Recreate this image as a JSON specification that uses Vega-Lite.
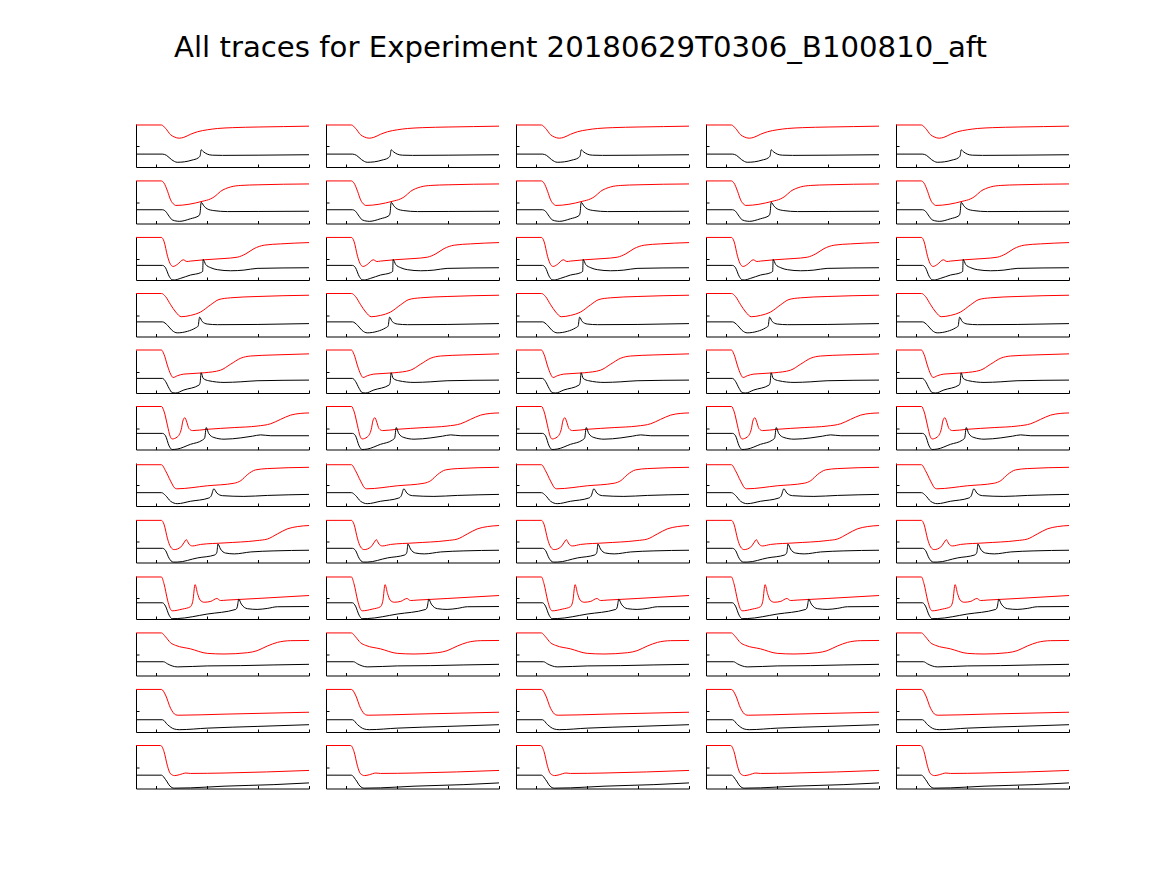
{
"$schema": "https://vega.github.io/schema/vega-lite/v6.json",
"padding": {"left": 134, "top": 33, "right": 10, "bottom": 10},
"title": {"text": "All traces for Experiment 20180629T0306_B100810_aft", "font": "DejaVu Sans", "fontSize": 29.2, "fontWeight": "normal", "color": "#000000", "anchor": "start", "frame": "group", "dx": 38, "baseline": "alphabetic", "offset": 37},
"data": {"values": [
{"r":1,"s":"r","t":-0.4,"y":0.977,"c":[1,2,3,4,5]},
{"r":1,"s":"r","t":0.1,"y":0.977,"c":[1,2,3,4,5]},
{"r":1,"s":"r","t":0.18,"y":0.9,"c":[1,2,3,4,5]},
{"r":1,"s":"r","t":0.28,"y":0.75,"c":[1,2,3,4,5]},
{"r":1,"s":"r","t":0.35,"y":0.7,"c":[1,2,3,4,5]},
{"r":1,"s":"r","t":0.45,"y":0.67,"c":[1,2,3,4,5]},
{"r":1,"s":"r","t":0.54,"y":0.69,"c":[1,2,3,4,5]},
{"r":1,"s":"r","t":0.67,"y":0.76,"c":[1,2,3,4,5]},
{"r":1,"s":"r","t":0.81,"y":0.82,"c":[1,2,3,4,5]},
{"r":1,"s":"r","t":1.0,"y":0.865,"c":[1,2,3,4,5]},
{"r":1,"s":"r","t":1.2,"y":0.895,"c":[1,2,3,4,5]},
{"r":1,"s":"r","t":1.5,"y":0.915,"c":[1,2,3,4,5]},
{"r":1,"s":"r","t":2.0,"y":0.93,"c":[1,2,3,4,5]},
{"r":1,"s":"r","t":2.5,"y":0.94,"c":[1,2,3,4,5]},
{"r":1,"s":"r","t":3.0,"y":0.95,"c":[1,2,3,4,5]},
{"r":1,"s":"k","t":-0.4,"y":0.3,"c":[1,2,3,4,5]},
{"r":1,"s":"k","t":0.12,"y":0.3,"c":[1,2,3,4,5]},
{"r":1,"s":"k","t":0.2,"y":0.27,"c":[1,2,3,4,5]},
{"r":1,"s":"k","t":0.3,"y":0.17,"c":[1,2,3,4,5]},
{"r":1,"s":"k","t":0.41,"y":0.11,"c":[1,2,3,4,5]},
{"r":1,"s":"k","t":0.55,"y":0.12,"c":[1,2,3,4,5]},
{"r":1,"s":"k","t":0.7,"y":0.16,"c":[1,2,3,4,5]},
{"r":1,"s":"k","t":0.82,"y":0.21,"c":[1,2,3,4,5]},
{"r":1,"s":"k","t":0.86,"y":0.26,"c":[1,2,3,4,5]},
{"r":1,"s":"k","t":0.88,"y":0.4,"c":[1,2,3,4,5]},
{"r":1,"s":"k","t":0.93,"y":0.35,"c":[1,2,3,4,5]},
{"r":1,"s":"k","t":1.0,"y":0.3,"c":[1,2,3,4,5]},
{"r":1,"s":"k","t":1.1,"y":0.275,"c":[1,2,3,4,5]},
{"r":1,"s":"k","t":1.3,"y":0.27,"c":[1,2,3,4,5]},
{"r":1,"s":"k","t":2.0,"y":0.275,"c":[1,2,3,4,5]},
{"r":1,"s":"k","t":3.0,"y":0.285,"c":[1,2,3,4,5]},
{"r":2,"s":"r","t":-0.4,"y":0.99,"c":[1,2,3,4,5]},
{"r":2,"s":"r","t":0.1,"y":0.99,"c":[1,2,3,4,5]},
{"r":2,"s":"r","t":0.15,"y":0.94,"c":[1,2,3,4,5]},
{"r":2,"s":"r","t":0.22,"y":0.75,"c":[1,2,3,4,5]},
{"r":2,"s":"r","t":0.28,"y":0.55,"c":[1,2,3,4,5]},
{"r":2,"s":"r","t":0.35,"y":0.44,"c":[1,2,3,4,5]},
{"r":2,"s":"r","t":0.38,"y":0.42,"c":[1,2,3,4,5]},
{"r":2,"s":"r","t":0.9,"y":0.515,"c":[1,2,3,4,5]},
{"r":2,"s":"r","t":1.07,"y":0.575,"c":[1,2,3,4,5]},
{"r":2,"s":"r","t":1.15,"y":0.63,"c":[1,2,3,4,5]},
{"r":2,"s":"r","t":1.26,"y":0.745,"c":[1,2,3,4,5]},
{"r":2,"s":"r","t":1.46,"y":0.85,"c":[1,2,3,4,5]},
{"r":2,"s":"r","t":1.66,"y":0.885,"c":[1,2,3,4,5]},
{"r":2,"s":"r","t":2.0,"y":0.9,"c":[1,2,3,4,5]},
{"r":2,"s":"r","t":3.0,"y":0.92,"c":[1,2,3,4,5]},
{"r":2,"s":"k","t":-0.4,"y":0.32,"c":[1,2,3,4,5]},
{"r":2,"s":"k","t":0.12,"y":0.32,"c":[1,2,3,4,5]},
{"r":2,"s":"k","t":0.18,"y":0.285,"c":[1,2,3,4,5]},
{"r":2,"s":"k","t":0.25,"y":0.17,"c":[1,2,3,4,5]},
{"r":2,"s":"k","t":0.31,"y":0.085,"c":[1,2,3,4,5]},
{"r":2,"s":"k","t":0.41,"y":0.054,"c":[1,2,3,4,5]},
{"r":2,"s":"k","t":0.45,"y":0.05,"c":[1,2,3,4,5]},
{"r":2,"s":"k","t":0.67,"y":0.11,"c":[1,2,3,4,5]},
{"r":2,"s":"k","t":0.84,"y":0.185,"c":[1,2,3,4,5]},
{"r":2,"s":"k","t":0.86,"y":0.25,"c":[1,2,3,4,5]},
{"r":2,"s":"k","t":0.88,"y":0.49,"c":[1,2,3,4,5]},
{"r":2,"s":"k","t":0.94,"y":0.4,"c":[1,2,3,4,5]},
{"r":2,"s":"k","t":1.0,"y":0.34,"c":[1,2,3,4,5]},
{"r":2,"s":"k","t":1.13,"y":0.3,"c":[1,2,3,4,5]},
{"r":2,"s":"k","t":1.4,"y":0.277,"c":[1,2,3,4,5]},
{"r":2,"s":"k","t":2.0,"y":0.28,"c":[1,2,3,4,5]},
{"r":2,"s":"k","t":3.0,"y":0.285,"c":[1,2,3,4,5]},
{"r":3,"s":"r","t":-0.4,"y":0.99,"c":[1,2,3,4,5]},
{"r":3,"s":"r","t":0.1,"y":0.99,"c":[1,2,3,4,5]},
{"r":3,"s":"r","t":0.15,"y":0.9,"c":[1,2,3,4,5]},
{"r":3,"s":"r","t":0.22,"y":0.55,"c":[1,2,3,4,5]},
{"r":3,"s":"r","t":0.28,"y":0.36,"c":[1,2,3,4,5]},
{"r":3,"s":"r","t":0.33,"y":0.315,"c":[1,2,3,4,5]},
{"r":3,"s":"r","t":0.41,"y":0.36,"c":[1,2,3,4,5]},
{"r":3,"s":"r","t":0.53,"y":0.47,"c":[1,2,3,4,5]},
{"r":3,"s":"r","t":0.6,"y":0.43,"c":[1,2,3,4,5]},
{"r":3,"s":"r","t":0.67,"y":0.44,"c":[1,2,3,4,5]},
{"r":3,"s":"r","t":0.94,"y":0.47,"c":[1,2,3,4,5]},
{"r":3,"s":"r","t":1.33,"y":0.5,"c":[1,2,3,4,5]},
{"r":3,"s":"r","t":1.59,"y":0.53,"c":[1,2,3,4,5]},
{"r":3,"s":"r","t":1.76,"y":0.61,"c":[1,2,3,4,5]},
{"r":3,"s":"r","t":1.92,"y":0.73,"c":[1,2,3,4,5]},
{"r":3,"s":"r","t":2.12,"y":0.81,"c":[1,2,3,4,5]},
{"r":3,"s":"r","t":2.44,"y":0.84,"c":[1,2,3,4,5]},
{"r":3,"s":"r","t":3.0,"y":0.87,"c":[1,2,3,4,5]},
{"r":3,"s":"k","t":-0.4,"y":0.34,"c":[1,2,3,4,5]},
{"r":3,"s":"k","t":0.12,"y":0.34,"c":[1,2,3,4,5]},
{"r":3,"s":"k","t":0.18,"y":0.285,"c":[1,2,3,4,5]},
{"r":3,"s":"k","t":0.25,"y":0.09,"c":[1,2,3,4,5]},
{"r":3,"s":"k","t":0.31,"y":0.005,"c":[1,2,3,4,5]},
{"r":3,"s":"k","t":0.35,"y":0.0,"c":[1,2,3,4,5]},
{"r":3,"s":"k","t":0.48,"y":0.04,"c":[1,2,3,4,5]},
{"r":3,"s":"k","t":0.67,"y":0.115,"c":[1,2,3,4,5]},
{"r":3,"s":"k","t":0.87,"y":0.17,"c":[1,2,3,4,5]},
{"r":3,"s":"k","t":0.91,"y":0.2,"c":[1,2,3,4,5]},
{"r":3,"s":"k","t":0.92,"y":0.477,"c":[1,2,3,4,5]},
{"r":3,"s":"k","t":0.97,"y":0.36,"c":[1,2,3,4,5]},
{"r":3,"s":"k","t":1.07,"y":0.285,"c":[1,2,3,4,5]},
{"r":3,"s":"k","t":1.2,"y":0.24,"c":[1,2,3,4,5]},
{"r":3,"s":"k","t":1.46,"y":0.215,"c":[1,2,3,4,5]},
{"r":3,"s":"k","t":1.72,"y":0.23,"c":[1,2,3,4,5]},
{"r":3,"s":"k","t":1.98,"y":0.27,"c":[1,2,3,4,5]},
{"r":3,"s":"k","t":3.0,"y":0.285,"c":[1,2,3,4,5]},
{"r":4,"s":"r","t":-0.4,"y":1.0,"c":[1,2,3,4,5]},
{"r":4,"s":"r","t":0.1,"y":1.0,"c":[1,2,3,4,5]},
{"r":4,"s":"r","t":0.18,"y":0.93,"c":[1,2,3,4,5]},
{"r":4,"s":"r","t":0.28,"y":0.74,"c":[1,2,3,4,5]},
{"r":4,"s":"r","t":0.38,"y":0.57,"c":[1,2,3,4,5]},
{"r":4,"s":"r","t":0.49,"y":0.46,"c":[1,2,3,4,5]},
{"r":4,"s":"r","t":0.67,"y":0.49,"c":[1,2,3,4,5]},
{"r":4,"s":"r","t":0.87,"y":0.57,"c":[1,2,3,4,5]},
{"r":4,"s":"r","t":1.07,"y":0.74,"c":[1,2,3,4,5]},
{"r":4,"s":"r","t":1.23,"y":0.86,"c":[1,2,3,4,5]},
{"r":4,"s":"r","t":1.46,"y":0.9,"c":[1,2,3,4,5]},
{"r":4,"s":"r","t":1.98,"y":0.93,"c":[1,2,3,4,5]},
{"r":4,"s":"r","t":3.0,"y":0.96,"c":[1,2,3,4,5]},
{"r":4,"s":"k","t":-0.4,"y":0.34,"c":[1,2,3,4,5]},
{"r":4,"s":"k","t":0.12,"y":0.34,"c":[1,2,3,4,5]},
{"r":4,"s":"k","t":0.22,"y":0.26,"c":[1,2,3,4,5]},
{"r":4,"s":"k","t":0.31,"y":0.14,"c":[1,2,3,4,5]},
{"r":4,"s":"k","t":0.41,"y":0.085,"c":[1,2,3,4,5]},
{"r":4,"s":"k","t":0.61,"y":0.12,"c":[1,2,3,4,5]},
{"r":4,"s":"k","t":0.77,"y":0.2,"c":[1,2,3,4,5]},
{"r":4,"s":"k","t":0.82,"y":0.24,"c":[1,2,3,4,5]},
{"r":4,"s":"k","t":0.85,"y":0.45,"c":[1,2,3,4,5]},
{"r":4,"s":"k","t":0.9,"y":0.35,"c":[1,2,3,4,5]},
{"r":4,"s":"k","t":1.0,"y":0.29,"c":[1,2,3,4,5]},
{"r":4,"s":"k","t":1.2,"y":0.275,"c":[1,2,3,4,5]},
{"r":4,"s":"k","t":1.98,"y":0.28,"c":[1,2,3,4,5]},
{"r":4,"s":"k","t":3.0,"y":0.3,"c":[1,2,3,4,5]},
{"r":5,"s":"r","t":-0.4,"y":1.0,"c":[1,2,3,4,5]},
{"r":5,"s":"r","t":0.1,"y":1.0,"c":[1,2,3,4,5]},
{"r":5,"s":"r","t":0.15,"y":0.9,"c":[1,2,3,4,5]},
{"r":5,"s":"r","t":0.22,"y":0.63,"c":[1,2,3,4,5]},
{"r":5,"s":"r","t":0.28,"y":0.44,"c":[1,2,3,4,5]},
{"r":5,"s":"r","t":0.33,"y":0.36,"c":[1,2,3,4,5]},
{"r":5,"s":"r","t":0.41,"y":0.4,"c":[1,2,3,4,5]},
{"r":5,"s":"r","t":0.54,"y":0.44,"c":[1,2,3,4,5]},
{"r":5,"s":"r","t":0.94,"y":0.47,"c":[1,2,3,4,5]},
{"r":5,"s":"r","t":1.26,"y":0.53,"c":[1,2,3,4,5]},
{"r":5,"s":"r","t":1.46,"y":0.67,"c":[1,2,3,4,5]},
{"r":5,"s":"r","t":1.66,"y":0.81,"c":[1,2,3,4,5]},
{"r":5,"s":"r","t":1.85,"y":0.86,"c":[1,2,3,4,5]},
{"r":5,"s":"r","t":2.31,"y":0.885,"c":[1,2,3,4,5]},
{"r":5,"s":"r","t":3.0,"y":0.91,"c":[1,2,3,4,5]},
{"r":5,"s":"k","t":-0.4,"y":0.34,"c":[1,2,3,4,5]},
{"r":5,"s":"k","t":0.12,"y":0.34,"c":[1,2,3,4,5]},
{"r":5,"s":"k","t":0.18,"y":0.27,"c":[1,2,3,4,5]},
{"r":5,"s":"k","t":0.25,"y":0.11,"c":[1,2,3,4,5]},
{"r":5,"s":"k","t":0.31,"y":0.01,"c":[1,2,3,4,5]},
{"r":5,"s":"k","t":0.38,"y":0.0,"c":[1,2,3,4,5]},
{"r":5,"s":"k","t":0.54,"y":0.07,"c":[1,2,3,4,5]},
{"r":5,"s":"k","t":0.84,"y":0.185,"c":[1,2,3,4,5]},
{"r":5,"s":"k","t":0.86,"y":0.24,"c":[1,2,3,4,5]},
{"r":5,"s":"k","t":0.88,"y":0.47,"c":[1,2,3,4,5]},
{"r":5,"s":"k","t":0.92,"y":0.34,"c":[1,2,3,4,5]},
{"r":5,"s":"k","t":1.03,"y":0.285,"c":[1,2,3,4,5]},
{"r":5,"s":"k","t":1.33,"y":0.246,"c":[1,2,3,4,5]},
{"r":5,"s":"k","t":1.66,"y":0.26,"c":[1,2,3,4,5]},
{"r":5,"s":"k","t":1.98,"y":0.285,"c":[1,2,3,4,5]},
{"r":5,"s":"k","t":3.0,"y":0.3,"c":[1,2,3,4,5]},
{"r":6,"s":"r","t":-0.4,"y":1.0,"c":[1,2,3,4,5]},
{"r":6,"s":"r","t":0.1,"y":1.0,"c":[1,2,3,4,5]},
{"r":6,"s":"r","t":0.15,"y":0.89,"c":[1,2,3,4,5]},
{"r":6,"s":"r","t":0.22,"y":0.55,"c":[1,2,3,4,5]},
{"r":6,"s":"r","t":0.27,"y":0.31,"c":[1,2,3,4,5]},
{"r":6,"s":"r","t":0.31,"y":0.245,"c":[1,2,3,4,5]},
{"r":6,"s":"r","t":0.41,"y":0.29,"c":[1,2,3,4,5]},
{"r":6,"s":"r","t":0.49,"y":0.47,"c":[1,2,3,4,5]},
{"r":6,"s":"r","t":0.52,"y":0.66,"c":[1,2,3,4,5]},
{"r":6,"s":"r","t":0.56,"y":0.74,"c":[1,2,3,4,5]},
{"r":6,"s":"r","t":0.6,"y":0.63,"c":[1,2,3,4,5]},
{"r":6,"s":"r","t":0.64,"y":0.49,"c":[1,2,3,4,5]},
{"r":6,"s":"r","t":0.71,"y":0.44,"c":[1,2,3,4,5]},
{"r":6,"s":"r","t":1.0,"y":0.47,"c":[1,2,3,4,5]},
{"r":6,"s":"r","t":1.53,"y":0.51,"c":[1,2,3,4,5]},
{"r":6,"s":"r","t":1.98,"y":0.545,"c":[1,2,3,4,5]},
{"r":6,"s":"r","t":2.25,"y":0.6,"c":[1,2,3,4,5]},
{"r":6,"s":"r","t":2.44,"y":0.7,"c":[1,2,3,4,5]},
{"r":6,"s":"r","t":2.64,"y":0.8,"c":[1,2,3,4,5]},
{"r":6,"s":"r","t":2.84,"y":0.84,"c":[1,2,3,4,5]},
{"r":6,"s":"r","t":3.0,"y":0.85,"c":[1,2,3,4,5]},
{"r":6,"s":"k","t":-0.4,"y":0.375,"c":[1,2,3,4,5]},
{"r":6,"s":"k","t":0.12,"y":0.375,"c":[1,2,3,4,5]},
{"r":6,"s":"k","t":0.18,"y":0.32,"c":[1,2,3,4,5]},
{"r":6,"s":"k","t":0.25,"y":0.085,"c":[1,2,3,4,5]},
{"r":6,"s":"k","t":0.31,"y":0.0,"c":[1,2,3,4,5]},
{"r":6,"s":"k","t":0.41,"y":0.01,"c":[1,2,3,4,5]},
{"r":6,"s":"k","t":0.67,"y":0.12,"c":[1,2,3,4,5]},
{"r":6,"s":"k","t":0.9,"y":0.215,"c":[1,2,3,4,5]},
{"r":6,"s":"k","t":0.95,"y":0.27,"c":[1,2,3,4,5]},
{"r":6,"s":"k","t":0.98,"y":0.51,"c":[1,2,3,4,5]},
{"r":6,"s":"k","t":1.03,"y":0.37,"c":[1,2,3,4,5]},
{"r":6,"s":"k","t":1.13,"y":0.28,"c":[1,2,3,4,5]},
{"r":6,"s":"k","t":1.33,"y":0.24,"c":[1,2,3,4,5]},
{"r":6,"s":"k","t":1.66,"y":0.27,"c":[1,2,3,4,5]},
{"r":6,"s":"k","t":1.89,"y":0.31,"c":[1,2,3,4,5]},
{"r":6,"s":"k","t":2.05,"y":0.34,"c":[1,2,3,4,5]},
{"r":6,"s":"k","t":2.25,"y":0.32,"c":[1,2,3,4,5]},
{"r":6,"s":"k","t":3.0,"y":0.32,"c":[1,2,3,4,5]},
{"r":7,"s":"r","t":-0.4,"y":0.96,"c":[1,2,3,4,5]},
{"r":7,"s":"r","t":0.1,"y":0.96,"c":[1,2,3,4,5]},
{"r":7,"s":"r","t":0.18,"y":0.82,"c":[1,2,3,4,5]},
{"r":7,"s":"r","t":0.28,"y":0.58,"c":[1,2,3,4,5]},
{"r":7,"s":"r","t":0.36,"y":0.42,"c":[1,2,3,4,5]},
{"r":7,"s":"r","t":0.4,"y":0.4,"c":[1,2,3,4,5]},
{"r":7,"s":"r","t":1.0,"y":0.47,"c":[1,2,3,4,5]},
{"r":7,"s":"r","t":1.53,"y":0.53,"c":[1,2,3,4,5]},
{"r":7,"s":"r","t":1.66,"y":0.59,"c":[1,2,3,4,5]},
{"r":7,"s":"r","t":1.79,"y":0.73,"c":[1,2,3,4,5]},
{"r":7,"s":"r","t":1.95,"y":0.84,"c":[1,2,3,4,5]},
{"r":7,"s":"r","t":2.18,"y":0.87,"c":[1,2,3,4,5]},
{"r":7,"s":"r","t":3.0,"y":0.9,"c":[1,2,3,4,5]},
{"r":7,"s":"k","t":-0.4,"y":0.31,"c":[1,2,3,4,5]},
{"r":7,"s":"k","t":0.1,"y":0.31,"c":[1,2,3,4,5]},
{"r":7,"s":"k","t":0.18,"y":0.246,"c":[1,2,3,4,5]},
{"r":7,"s":"k","t":0.28,"y":0.11,"c":[1,2,3,4,5]},
{"r":7,"s":"k","t":0.41,"y":0.054,"c":[1,2,3,4,5]},
{"r":7,"s":"k","t":0.67,"y":0.11,"c":[1,2,3,4,5]},
{"r":7,"s":"k","t":1.03,"y":0.185,"c":[1,2,3,4,5]},
{"r":7,"s":"k","t":1.08,"y":0.24,"c":[1,2,3,4,5]},
{"r":7,"s":"k","t":1.13,"y":0.4,"c":[1,2,3,4,5]},
{"r":7,"s":"k","t":1.19,"y":0.3,"c":[1,2,3,4,5]},
{"r":7,"s":"k","t":1.3,"y":0.24,"c":[1,2,3,4,5]},
{"r":7,"s":"k","t":1.72,"y":0.223,"c":[1,2,3,4,5]},
{"r":7,"s":"k","t":2.18,"y":0.246,"c":[1,2,3,4,5]},
{"r":7,"s":"k","t":3.0,"y":0.27,"c":[1,2,3,4,5]},
{"r":8,"s":"r","t":-0.4,"y":0.98,"c":[1,2,3,4,5]},
{"r":8,"s":"r","t":0.1,"y":0.98,"c":[1,2,3,4,5]},
{"r":8,"s":"r","t":0.15,"y":0.89,"c":[1,2,3,4,5]},
{"r":8,"s":"r","t":0.22,"y":0.55,"c":[1,2,3,4,5]},
{"r":8,"s":"r","t":0.28,"y":0.36,"c":[1,2,3,4,5]},
{"r":8,"s":"r","t":0.35,"y":0.3,"c":[1,2,3,4,5]},
{"r":8,"s":"r","t":0.48,"y":0.36,"c":[1,2,3,4,5]},
{"r":8,"s":"r","t":0.54,"y":0.455,"c":[1,2,3,4,5]},
{"r":8,"s":"r","t":0.59,"y":0.53,"c":[1,2,3,4,5]},
{"r":8,"s":"r","t":0.64,"y":0.43,"c":[1,2,3,4,5]},
{"r":8,"s":"r","t":0.71,"y":0.385,"c":[1,2,3,4,5]},
{"r":8,"s":"r","t":0.87,"y":0.42,"c":[1,2,3,4,5]},
{"r":8,"s":"r","t":1.33,"y":0.455,"c":[1,2,3,4,5]},
{"r":8,"s":"r","t":1.98,"y":0.51,"c":[1,2,3,4,5]},
{"r":8,"s":"r","t":2.18,"y":0.545,"c":[1,2,3,4,5]},
{"r":8,"s":"r","t":2.38,"y":0.665,"c":[1,2,3,4,5]},
{"r":8,"s":"r","t":2.57,"y":0.78,"c":[1,2,3,4,5]},
{"r":8,"s":"r","t":2.77,"y":0.835,"c":[1,2,3,4,5]},
{"r":8,"s":"r","t":3.0,"y":0.86,"c":[1,2,3,4,5]},
{"r":8,"s":"k","t":-0.4,"y":0.33,"c":[1,2,3,4,5]},
{"r":8,"s":"k","t":0.12,"y":0.33,"c":[1,2,3,4,5]},
{"r":8,"s":"k","t":0.18,"y":0.28,"c":[1,2,3,4,5]},
{"r":8,"s":"k","t":0.25,"y":0.1,"c":[1,2,3,4,5]},
{"r":8,"s":"k","t":0.33,"y":0.01,"c":[1,2,3,4,5]},
{"r":8,"s":"k","t":0.41,"y":0.01,"c":[1,2,3,4,5]},
{"r":8,"s":"k","t":0.81,"y":0.107,"c":[1,2,3,4,5]},
{"r":8,"s":"k","t":1.15,"y":0.176,"c":[1,2,3,4,5]},
{"r":8,"s":"k","t":1.19,"y":0.24,"c":[1,2,3,4,5]},
{"r":8,"s":"k","t":1.21,"y":0.43,"c":[1,2,3,4,5]},
{"r":8,"s":"k","t":1.26,"y":0.315,"c":[1,2,3,4,5]},
{"r":8,"s":"k","t":1.36,"y":0.22,"c":[1,2,3,4,5]},
{"r":8,"s":"k","t":1.53,"y":0.2,"c":[1,2,3,4,5]},
{"r":8,"s":"k","t":1.85,"y":0.245,"c":[1,2,3,4,5]},
{"r":8,"s":"k","t":2.31,"y":0.27,"c":[1,2,3,4,5]},
{"r":8,"s":"k","t":3.0,"y":0.285,"c":[1,2,3,4,5]},
{"r":9,"s":"r","t":-0.4,"y":0.977,"c":[1,2,3,4,5]},
{"r":9,"s":"r","t":0.1,"y":0.977,"c":[1,2,3,4,5]},
{"r":9,"s":"r","t":0.15,"y":0.82,"c":[1,2,3,4,5]},
{"r":9,"s":"r","t":0.22,"y":0.44,"c":[1,2,3,4,5]},
{"r":9,"s":"r","t":0.27,"y":0.246,"c":[1,2,3,4,5]},
{"r":9,"s":"r","t":0.31,"y":0.19,"c":[1,2,3,4,5]},
{"r":9,"s":"r","t":0.51,"y":0.23,"c":[1,2,3,4,5]},
{"r":9,"s":"r","t":0.67,"y":0.285,"c":[1,2,3,4,5]},
{"r":9,"s":"r","t":0.72,"y":0.44,"c":[1,2,3,4,5]},
{"r":9,"s":"r","t":0.76,"y":0.8,"c":[1,2,3,4,5]},
{"r":9,"s":"r","t":0.81,"y":0.59,"c":[1,2,3,4,5]},
{"r":9,"s":"r","t":0.86,"y":0.44,"c":[1,2,3,4,5]},
{"r":9,"s":"r","t":0.94,"y":0.39,"c":[1,2,3,4,5]},
{"r":9,"s":"r","t":1.07,"y":0.41,"c":[1,2,3,4,5]},
{"r":9,"s":"r","t":1.19,"y":0.477,"c":[1,2,3,4,5]},
{"r":9,"s":"r","t":1.26,"y":0.43,"c":[1,2,3,4,5]},
{"r":9,"s":"r","t":1.39,"y":0.44,"c":[1,2,3,4,5]},
{"r":9,"s":"r","t":1.98,"y":0.477,"c":[1,2,3,4,5]},
{"r":9,"s":"r","t":3.0,"y":0.546,"c":[1,2,3,4,5]},
{"r":9,"s":"k","t":-0.4,"y":0.377,"c":[1,2,3,4,5]},
{"r":9,"s":"k","t":0.12,"y":0.377,"c":[1,2,3,4,5]},
{"r":9,"s":"k","t":0.18,"y":0.3,"c":[1,2,3,4,5]},
{"r":9,"s":"k","t":0.25,"y":0.09,"c":[1,2,3,4,5]},
{"r":9,"s":"k","t":0.31,"y":0.008,"c":[1,2,3,4,5]},
{"r":9,"s":"k","t":0.41,"y":0.01,"c":[1,2,3,4,5]},
{"r":9,"s":"k","t":1.0,"y":0.115,"c":[1,2,3,4,5]},
{"r":9,"s":"k","t":1.56,"y":0.223,"c":[1,2,3,4,5]},
{"r":9,"s":"k","t":1.59,"y":0.28,"c":[1,2,3,4,5]},
{"r":9,"s":"k","t":1.62,"y":0.46,"c":[1,2,3,4,5]},
{"r":9,"s":"k","t":1.67,"y":0.346,"c":[1,2,3,4,5]},
{"r":9,"s":"k","t":1.79,"y":0.24,"c":[1,2,3,4,5]},
{"r":9,"s":"k","t":1.98,"y":0.223,"c":[1,2,3,4,5]},
{"r":9,"s":"k","t":2.18,"y":0.246,"c":[1,2,3,4,5]},
{"r":9,"s":"k","t":2.38,"y":0.285,"c":[1,2,3,4,5]},
{"r":9,"s":"k","t":3.0,"y":0.29,"c":[1,2,3,4,5]},
{"r":10,"s":"r","t":-0.4,"y":0.99,"c":[1,2,3,4,5]},
{"r":10,"s":"r","t":0.1,"y":0.99,"c":[1,2,3,4,5]},
{"r":10,"s":"r","t":0.18,"y":0.9,"c":[1,2,3,4,5]},
{"r":10,"s":"r","t":0.28,"y":0.76,"c":[1,2,3,4,5]},
{"r":10,"s":"r","t":0.38,"y":0.7,"c":[1,2,3,4,5]},
{"r":10,"s":"r","t":0.67,"y":0.62,"c":[1,2,3,4,5]},
{"r":10,"s":"r","t":1.0,"y":0.515,"c":[1,2,3,4,5]},
{"r":10,"s":"r","t":1.33,"y":0.5,"c":[1,2,3,4,5]},
{"r":10,"s":"r","t":1.79,"y":0.53,"c":[1,2,3,4,5]},
{"r":10,"s":"r","t":1.98,"y":0.577,"c":[1,2,3,4,5]},
{"r":10,"s":"r","t":2.18,"y":0.685,"c":[1,2,3,4,5]},
{"r":10,"s":"r","t":2.38,"y":0.77,"c":[1,2,3,4,5]},
{"r":10,"s":"r","t":2.64,"y":0.81,"c":[1,2,3,4,5]},
{"r":10,"s":"r","t":3.0,"y":0.815,"c":[1,2,3,4,5]},
{"r":10,"s":"k","t":-0.4,"y":0.32,"c":[1,2,3,4,5]},
{"r":10,"s":"k","t":0.14,"y":0.32,"c":[1,2,3,4,5]},
{"r":10,"s":"k","t":0.22,"y":0.27,"c":[1,2,3,4,5]},
{"r":10,"s":"k","t":0.31,"y":0.223,"c":[1,2,3,4,5]},
{"r":10,"s":"k","t":0.41,"y":0.2,"c":[1,2,3,4,5]},
{"r":10,"s":"k","t":1.0,"y":0.223,"c":[1,2,3,4,5]},
{"r":10,"s":"k","t":1.66,"y":0.23,"c":[1,2,3,4,5]},
{"r":10,"s":"k","t":2.31,"y":0.246,"c":[1,2,3,4,5]},
{"r":10,"s":"k","t":3.0,"y":0.26,"c":[1,2,3,4,5]},
{"r":11,"s":"r","t":-0.4,"y":0.99,"c":[1,2,3,4,5]},
{"r":11,"s":"r","t":0.1,"y":0.99,"c":[1,2,3,4,5]},
{"r":11,"s":"r","t":0.18,"y":0.86,"c":[1,2,3,4,5]},
{"r":11,"s":"r","t":0.28,"y":0.55,"c":[1,2,3,4,5]},
{"r":11,"s":"r","t":0.38,"y":0.4,"c":[1,2,3,4,5]},
{"r":11,"s":"r","t":0.43,"y":0.39,"c":[1,2,3,4,5]},
{"r":11,"s":"r","t":1.33,"y":0.415,"c":[1,2,3,4,5]},
{"r":11,"s":"r","t":3.0,"y":0.46,"c":[1,2,3,4,5]},
{"r":11,"s":"k","t":-0.4,"y":0.285,"c":[1,2,3,4,5]},
{"r":11,"s":"k","t":0.12,"y":0.285,"c":[1,2,3,4,5]},
{"r":11,"s":"k","t":0.22,"y":0.17,"c":[1,2,3,4,5]},
{"r":11,"s":"k","t":0.35,"y":0.07,"c":[1,2,3,4,5]},
{"r":11,"s":"k","t":0.45,"y":0.054,"c":[1,2,3,4,5]},
{"r":11,"s":"k","t":1.0,"y":0.09,"c":[1,2,3,4,5]},
{"r":11,"s":"k","t":1.98,"y":0.13,"c":[1,2,3,4,5]},
{"r":11,"s":"k","t":3.0,"y":0.17,"c":[1,2,3,4,5]},
{"r":12,"s":"r","t":-0.4,"y":1.0,"c":[1,2,3,4,5]},
{"r":12,"s":"r","t":0.085,"y":1.0,"c":[1,2,3,4,5]},
{"r":12,"s":"r","t":0.15,"y":0.86,"c":[1,2,3,4,5]},
{"r":12,"s":"r","t":0.22,"y":0.515,"c":[1,2,3,4,5]},
{"r":12,"s":"r","t":0.28,"y":0.34,"c":[1,2,3,4,5]},
{"r":12,"s":"r","t":0.36,"y":0.3,"c":[1,2,3,4,5]},
{"r":12,"s":"r","t":0.45,"y":0.32,"c":[1,2,3,4,5]},
{"r":12,"s":"r","t":0.58,"y":0.36,"c":[1,2,3,4,5]},
{"r":12,"s":"r","t":0.67,"y":0.35,"c":[1,2,3,4,5]},
{"r":12,"s":"r","t":1.33,"y":0.36,"c":[1,2,3,4,5]},
{"r":12,"s":"r","t":3.0,"y":0.42,"c":[1,2,3,4,5]},
{"r":12,"s":"k","t":-0.4,"y":0.31,"c":[1,2,3,4,5]},
{"r":12,"s":"k","t":0.1,"y":0.31,"c":[1,2,3,4,5]},
{"r":12,"s":"k","t":0.18,"y":0.21,"c":[1,2,3,4,5]},
{"r":12,"s":"k","t":0.27,"y":0.054,"c":[1,2,3,4,5]},
{"r":12,"s":"k","t":0.35,"y":0.008,"c":[1,2,3,4,5]},
{"r":12,"s":"k","t":0.67,"y":0.015,"c":[1,2,3,4,5]},
{"r":12,"s":"k","t":1.33,"y":0.054,"c":[1,2,3,4,5]},
{"r":12,"s":"k","t":2.31,"y":0.09,"c":[1,2,3,4,5]},
{"r":12,"s":"k","t":3.0,"y":0.13,"c":[1,2,3,4,5]}
]},
"transform": [{"flatten": ["c"]}],
"facet": {
  "row": {"field": "r", "type": "ordinal", "title": null, "header": {"labels": false, "title": null, "labelPadding": 0, "titlePadding": 0}},
  "column": {"field": "c", "type": "ordinal", "title": null, "header": {"labels": false, "title": null, "labelPadding": 0, "titlePadding": 0}}
},
"spacing": {"row": 9.5, "column": 13},
"resolve": {"axis": {"x": "independent", "y": "independent"}},
"spec": {
  "width": 173,
  "height": 43,
  "mark": {"type": "line", "strokeWidth": 1, "interpolate": "monotone"},
  "encoding": {
    "x": {"field": "t", "type": "quantitative", "scale": {"domain": [-0.4, 3], "nice": false, "zero": false}, "axis": {"values": [0, 1, 2, 3], "labels": false, "title": null, "grid": false, "tickSize": -3, "tickColor": "#000000", "domainColor": "#000000", "domainWidth": 1, "tickWidth": 1, "minExtent": 0, "maxExtent": 0, "offset": 0}},
    "y": {"field": "y", "type": "quantitative", "scale": {"domain": [0, 1], "nice": false, "zero": false}, "axis": {"values": [0.5], "labels": false, "title": null, "grid": false, "tickSize": -3, "tickColor": "#000000", "domainColor": "#000000", "domainWidth": 1, "tickWidth": 1, "minExtent": 0, "maxExtent": 0, "offset": 0}},
    "color": {"field": "s", "type": "nominal", "scale": {"domain": ["r", "k"], "range": ["#ff0000", "#000000"]}, "legend": null},
    "order": {"field": "t", "type": "quantitative"}
  }
},
"config": {"view": {"stroke": null}, "background": "#ffffff"}
}
